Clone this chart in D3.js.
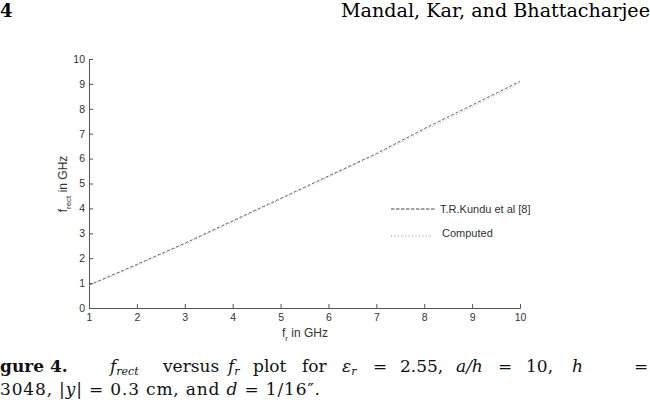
<!DOCTYPE html>
<html><head><meta charset="utf-8">
<script src="https://cdn.jsdelivr.net/npm/d3@7"></script>
<style>body{margin:0;background:#fff}svg{display:block}</style>
</head><body>
<svg id="c" width="650" height="412"></svg>
<script>
const fr = [1,2,3,4,5,6,7,8,9,10];
const kundu = [0.92,1.75,2.6,3.5,4.4,5.3,6.2,7.2,8.15,9.1];
const computed = [0.9,1.72,2.57,3.46,4.36,5.26,6.16,7.13,8.08,9.03];
const xTicks = [1,2,3,4,5,6,7,8,9,10];
const yTicks = [0,1,2,3,4,5,6,7,8,9,10];
const legendLabels = ["T.R.Kundu et al [8]","Computed"];

const svg = d3.select("#c");
const x = d3.scaleLinear().domain([1,10]).range([89,520]);
const y = d3.scaleLinear().domain([0,10]).range([308,59]);
const axCol = "#555";
const sans = "Liberation Sans, Arial, sans-serif";
const serif = "DejaVu Serif, serif";

// axes
const xa = svg.append("g").attr("transform","translate(0,308)")
  .call(d3.axisBottom(x).tickValues(xTicks).tickSize(-4).tickPadding(6).tickFormat(d3.format("d")));
const ya = svg.append("g").attr("transform","translate(89,0)")
  .call(d3.axisLeft(y).tickValues(yTicks).tickSize(-4).tickPadding(4).tickFormat(d3.format("d")));
[xa,ya].forEach(a=>{
  a.select(".domain").attr("stroke",axCol);
  a.selectAll(".tick line").attr("stroke",axCol);
  a.selectAll("text").attr("font-family",sans).attr("font-size",10.5).attr("fill","#333");
});

// lines
const line = d3.line().x((d,i)=>x(fr[i])).y(d=>y(d));
svg.append("path").datum(computed).attr("d",line).attr("fill","none")
  .attr("stroke","#aaa").attr("stroke-width",1).attr("stroke-dasharray","1,2");
svg.append("path").datum(kundu).attr("d",line).attr("fill","none")
  .attr("stroke","#666").attr("stroke-width",1).attr("stroke-dasharray","3,2");

// legend
const lg = svg.append("g");
lg.append("line").attr("x1",391).attr("x2",436).attr("y1",209).attr("y2",209)
  .attr("stroke","#444").attr("stroke-dasharray","3.5,1.5");
lg.append("text").attr("x",440).attr("y",213).text(legendLabels[0]);
lg.append("line").attr("x1",391).attr("x2",432).attr("y1",236).attr("y2",236)
  .attr("stroke","#888").attr("stroke-dasharray","1,2.5");
lg.append("text").attr("x",442).attr("y",237).text(legendLabels[1]);
lg.selectAll("text").attr("font-family",sans).attr("font-size",11).attr("fill","#333");

// axis labels
const xl = svg.append("text").attr("x",305).attr("y",337).attr("text-anchor","middle")
  .attr("font-family",sans).attr("font-size",12).attr("fill","#333");
xl.append("tspan").text("f");
xl.append("tspan").attr("font-size",8).attr("dy",4).text("r");
xl.append("tspan").attr("dy",-4).text(" in GHz");
const yl = svg.append("text").attr("transform","translate(67,184) rotate(-90)").attr("text-anchor","middle")
  .attr("font-family",sans).attr("font-size",12).attr("fill","#333");
yl.append("tspan").text("f");
yl.append("tspan").attr("font-size",8).attr("dy",4).text("rect");
yl.append("tspan").attr("dy",-4).text(" in GHz");

// page header
svg.append("text").attr("x",0).attr("y",17).attr("font-family",serif).attr("font-weight","bold").attr("font-size",18).text("4");
svg.append("text").attr("x",341).attr("y",17).attr("font-family",serif).attr("font-size",18)
  .attr("textLength",309).attr("lengthAdjust","spacingAndGlyphs").text("Mandal, Kar, and Bhattacharjee");

// caption
const cap = svg.append("g").attr("font-family",serif).attr("font-size",17).attr("fill","#111");
cap.append("text").attr("x",0).attr("y",372).attr("font-weight","bold").text("gure 4.");
const t1 = cap.append("text").attr("x",110).attr("y",372);
t1.append("tspan").attr("font-style","italic").text("f");
t1.append("tspan").attr("font-style","italic").attr("font-size",11).attr("dy",3).text("rect");
cap.append("text").attr("x",163).attr("y",372).text("versus");
const t2 = cap.append("text").attr("x",228).attr("y",372);
t2.append("tspan").attr("font-style","italic").text("f");
t2.append("tspan").attr("font-style","italic").attr("font-size",11).attr("dy",3).text("r");
cap.append("text").attr("x",253).attr("y",372).text("plot");
cap.append("text").attr("x",302).attr("y",372).text("for");
const t3 = cap.append("text").attr("x",342).attr("y",372);
t3.append("tspan").attr("font-style","italic").text("ε");
t3.append("tspan").attr("font-style","italic").attr("font-size",11).attr("dy",3).text("r");
cap.append("text").attr("x",373).attr("y",372).text("=");
cap.append("text").attr("x",400).attr("y",372).text("2.55,");
cap.append("text").attr("x",456).attr("y",372).attr("font-style","italic").text("a/h");
cap.append("text").attr("x",498).attr("y",372).text("=");
cap.append("text").attr("x",526).attr("y",372).text("10,");
cap.append("text").attr("x",572).attr("y",372).attr("font-style","italic").text("h");
cap.append("text").attr("x",634).attr("y",372).text("=");
const l2 = cap.append("text").attr("x",0).attr("y",395).attr("textLength",320).attr("lengthAdjust","spacing");
l2.append("tspan").text("3048,  |");
l2.append("tspan").attr("font-style","italic").text("y");
l2.append("tspan").text("| = 0.3 cm, and ");
l2.append("tspan").attr("font-style","italic").text("d");
l2.append("tspan").text(" = 1/16″.");
</script>
</body></html>
